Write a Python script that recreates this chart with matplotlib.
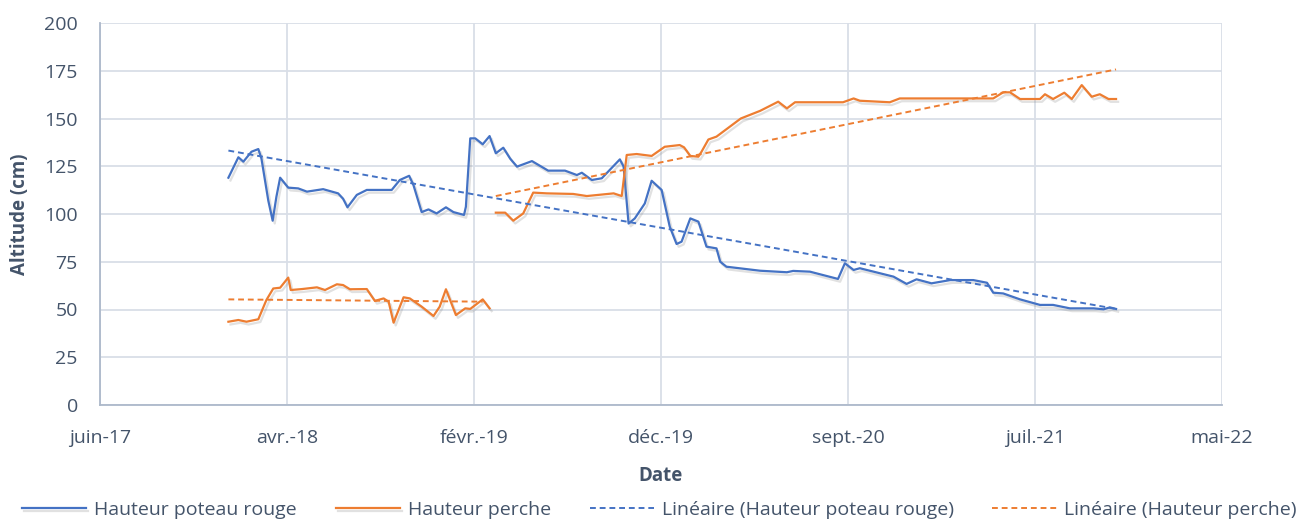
import matplotlib
matplotlib.use('Agg')
import matplotlib.pyplot as plt
import matplotlib.patheffects as pe
import numpy as np
import pandas as pd

# dates en numéros de série Excel (origine 1899-12-30)
poteau_jours = [43106, 43122, 43130, 43143, 43154, 43159, 43170, 43177, 43183, 43189,
                43202, 43218, 43232, 43258, 43282, 43290, 43297, 43312, 43328, 43368,
                43381, 43396, 43403, 43416, 43427, 43440, 43455, 43467, 43484, 43487,
                43494, 43502, 43514, 43525, 43535, 43547, 43558, 43569, 43593, 43619,
                43646, 43665, 43673, 43689, 43705, 43734, 43740, 43748, 43758, 43774,
                43785, 43801, 43814, 43825, 43833, 43847, 43860, 43873, 43889, 43895,
                43905, 43959, 44002, 44012, 44039, 44084, 44095, 44109, 44119, 44173,
                44194, 44210, 44234, 44264, 44301, 44323, 44333, 44349, 44376, 44408,
                44429, 44456, 44494, 44510, 44520, 44530]
poteau_cm = [119, 129.7, 127.4, 132.6, 134, 129, 107, 96.5, 109, 119,
             113.8, 113.4, 111.7, 113, 110.8, 108, 103.5, 110, 112.6, 112.6,
             117.8, 120, 115, 101, 102.4, 100.3, 103.5, 101, 99.5, 103.8,
             139.6, 139.6, 136.5, 140.8, 131.8, 134.7, 129, 124.8, 127.7, 122.7,
             122.7, 120.4, 121.6, 117.8, 118.7, 128.6, 124.8, 95, 97.7, 105.5,
             117.4, 112.6, 93.4, 84.3, 85.5, 97.7, 96, 82.9, 82, 75,
             72.4, 70.3, 69.5, 70.2, 69.8, 66, 74.2, 70.7, 71.6, 67.2,
             63.4, 65.8, 63.7, 65.4, 65.4, 64, 58.8, 58.4, 55.3, 52.4,
             52.4, 50.6, 50.6, 50.1, 51.1, 50.3]

perche1_jours = [43106, 43122, 43135, 43154, 43167, 43178, 43189, 43202, 43206, 43224,
                 43248, 43261, 43280, 43290, 43301, 43328, 43341, 43355, 43363, 43371,
                 43387, 43397, 43416, 43435, 43445, 43455, 43471, 43486, 43494, 43514,
                 43525]
perche1_cm = [43.6, 44.5, 43.6, 44.9, 55, 61, 61.4, 66.7, 60.2, 60.7,
              61.6, 60.2, 63.2, 62.8, 60.6, 60.7, 54.5, 55.8, 54.1, 43.1,
              56.4, 55.8, 51.5, 46.6, 51.5, 60.6, 47.1, 50.6, 50.3, 55.3,
              50.6]

perche2_jours = [43535, 43550, 43563, 43579, 43595, 43617, 43659, 43681, 43724, 43737,
                 43745, 43761, 43785, 43806, 43830, 43837, 43847, 43860, 43865, 43876,
                 43889, 43928, 43959, 43988, 44002, 44015, 44092, 44109, 44119, 44167,
                 44183, 44333, 44349, 44360, 44376, 44408, 44416, 44429, 44447, 44459,
                 44475, 44491, 44504, 44518, 44530]
perche2_cm = [100.7, 100.7, 96.5, 100.3, 111.2, 110.8, 110.5, 109.4, 110.8, 109.4,
              130.9, 131.4, 130.4, 135.2, 136.1, 134.9, 130.4, 130, 132.6, 139,
              140.5, 150, 154, 158.8, 155.3, 158.5, 158.5, 160.5, 159.3, 158.5,
              160.5, 160.5, 163.7, 163.7, 160.2, 160.2, 162.7, 160.2, 163.5, 160.2,
              167.5, 161.4, 162.7, 160.2, 160.2]

# courbes de tendance (début, fin)
tend_poteau_jours = [43106, 44530]
tend_poteau_cm = [133.2, 50.3]
tend_perche1_jours = [43106, 43514]
tend_perche1_cm = [55.3, 54.1]
tend_perche2_jours = [43535, 44530]
tend_perche2_cm = [109.4, 175.7]

x_ticks_jours = [42900, 43200, 43500, 43800, 44100, 44400, 44700]
x_tick_labels = ['juin-17', 'avr.-18', 'févr.-19', 'déc.-19', 'sept.-20', 'juil.-21', 'mai-22']
y_ticks = [0, 25, 50, 75, 100, 125, 150, 175, 200]


def en_date(j):
    return pd.to_datetime(np.array(j), unit='D', origin='1899-12-30')


bleu = '#4472C4'
orange = '#ED7D31'
texte = '#44546A'

plt.rcParams['font.family'] = ['Open Sans', 'DejaVu Sans']

fig = plt.figure(figsize=(13.06, 5.21), dpi=100)
ax = fig.add_axes([100 / 1306, 116 / 521, 1122 / 1306, 382 / 521])

ombre = [pe.SimpleLineShadow(offset=(1.5, -2), shadow_color='#888888', alpha=0.25), pe.Normal()]

ax.plot(en_date(poteau_jours), poteau_cm, color=bleu, lw=1.6, path_effects=ombre,
        label='Hauteur poteau rouge')
ax.plot(en_date(perche1_jours), perche1_cm, color=orange, lw=1.6, path_effects=ombre,
        label='Hauteur perche')
ax.plot(en_date(perche2_jours), perche2_cm, color=orange, lw=1.6, path_effects=ombre)
ax.plot(en_date(tend_poteau_jours), tend_poteau_cm, color=bleu, lw=1.4, ls=(0, (3, 2)),
        label='Linéaire (Hauteur poteau rouge)')
ax.plot(en_date(tend_perche1_jours), tend_perche1_cm, color=orange, lw=1.4, ls=(0, (3, 2)),
        label='Linéaire (Hauteur perche)')
ax.plot(en_date(tend_perche2_jours), tend_perche2_cm, color=orange, lw=1.4, ls=(0, (3, 2)))

ax.set_xlim(en_date([42900])[0], en_date([44700])[0])
ax.set_ylim(0, 200)
ax.set_xticks(en_date(x_ticks_jours))
ax.set_xticklabels(x_tick_labels)
ax.set_yticks(y_ticks)

ax.grid(True, color='#D9DEE7', lw=1.3)
ax.set_axisbelow(True)
for s in ['top', 'right']:
    ax.spines[s].set_visible(False)
for s in ['left', 'bottom']:
    ax.spines[s].set_color('#ADB9CA')
    ax.spines[s].set_linewidth(1.3)
ax.tick_params(length=0, labelsize=14, colors=texte)
ax.tick_params(axis='x', pad=17)
ax.tick_params(axis='y', pad=16)

ax.set_xlabel('Date', fontsize=13.5, fontweight='bold', color=texte, labelpad=14)
ax.set_ylabel('Altitude (cm)', fontsize=13.5, fontweight='bold', color=texte, labelpad=10)

leg = fig.legend(loc='center', bbox_to_anchor=(0.505, 0.022), ncol=4, frameon=False,
                 fontsize=14, handlelength=3.3, columnspacing=2.0, handletextpad=0.4)
for t in leg.get_texts():
    t.set_color(texte)

fig.savefig('out.png', dpi=100)
